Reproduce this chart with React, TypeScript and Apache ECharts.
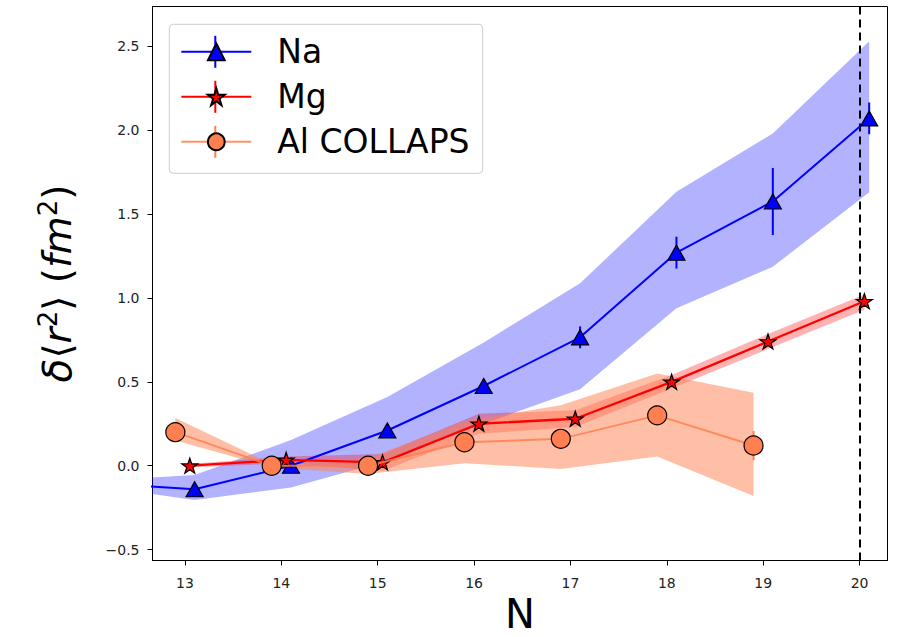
import React, { useEffect, useRef } from 'react';
import * as echarts from 'echarts';

// axis ranges / ticks
const X_MIN = 12.663;
const X_MAX = 20.29;
const Y_MIN = -0.565;
const Y_MAX = 2.737;
const X_TICKS = [13, 14, 15, 16, 17, 18, 19, 20];
const Y_TICKS = [-0.5, 0, 0.5, 1, 1.5, 2, 2.5];
const VLINE_N = 20;

// Na
const NA_LEAD = [12.1, -0.105];
const NA_LEAD_BAND = [-0.122, -0.088];
const NA_N = [13.1, 14.1, 15.1, 16.1, 17.1, 18.1, 19.1, 20.1];
const NA_Y = [-0.14, 0.0, 0.21, 0.475, 0.765, 1.27, 1.575, 2.07];
const NA_ERR = [0.02, 0.02, 0.03, 0.04, 0.065, 0.095, 0.2, 0.095];
const NA_LO = [-0.205, -0.13, 0.03, 0.25, 0.455, 0.938, 1.186, 1.63];
const NA_HI = [-0.055, 0.153, 0.41, 0.735, 1.087, 1.633, 1.98, 2.53];

// Mg
const MG_N = [13.05, 14.05, 15.05, 16.05, 17.05, 18.05, 19.05, 20.05];
const MG_Y = [0.0, 0.035, 0.02, 0.25, 0.28, 0.5, 0.74, 0.98];
const MG_ERR = [0.01, 0.01, 0.01, 0.02, 0.02, 0.02, 0.02, 0.02];
const MG_LO = [-0.01, 0.015, -0.03, 0.19, 0.23, 0.46, 0.695, 0.93];
const MG_HI = [0.01, 0.055, 0.07, 0.31, 0.33, 0.54, 0.785, 1.02];

// Al COLLAPS
const AL_N = [12.9, 13.9, 14.9, 15.9, 16.9, 17.9, 18.9];
const AL_Y = [0.2, 0.0, 0.0, 0.14, 0.16, 0.3, 0.12];
const AL_ERR = [0.03, 0.02, 0.02, 0.03, 0.03, 0.04, 0.087];
const AL_LO = [0.15, -0.01, -0.05, 0.015, -0.02, 0.055, -0.18];
const AL_HI = [0.285, 0.01, 0.046, 0.265, 0.36, 0.55, 0.435];

const BLUE = '#0000ff';
const RED = '#ff0000';
const CORAL = '#ff7f50';
const STAR =
  'path://M100 0 L122.45 69.1 L195.11 69.1 L136.33 111.8 L158.78 180.9 L100 138.2 L41.22 180.9 L63.67 111.8 L4.89 69.1 L77.55 69.1 Z';

function bandSeries(name: string, xs: number[], lo: number[], hi: number[], color: string, opacity: number) {
  return {
    type: 'custom',
    name,
    z: 1,
    silent: true,
    clip: true,
    data: xs.map((x, i) => [x, lo[i], hi[i]]),
    encode: { x: 0, y: [1, 2] },
    renderItem: (params: any, api: any) => {
      if (params.dataIndex !== 0) return null;
      const pts: number[][] = [];
      for (let i = 0; i < xs.length; i++) pts.push(api.coord([xs[i], hi[i]]));
      for (let i = xs.length - 1; i >= 0; i--) pts.push(api.coord([xs[i], lo[i]]));
      return {
        type: 'polygon',
        shape: { points: pts },
        style: { fill: color, opacity, stroke: 'none' },
      };
    },
  };
}

function errSeries(name: string, xs: number[], ys: number[], es: number[], color: string, z: number) {
  return {
    type: 'custom',
    name,
    z,
    silent: true,
    clip: true,
    data: xs.map((x, i) => [x, ys[i] - es[i], ys[i] + es[i]]),
    encode: { x: 0, y: [1, 2] },
    renderItem: (params: any, api: any) => {
      const a = api.coord([api.value(0), api.value(1)]);
      const b = api.coord([api.value(0), api.value(2)]);
      return {
        type: 'line',
        shape: { x1: a[0], y1: a[1], x2: b[0], y2: b[1] },
        style: { stroke: color, lineWidth: 2 },
      };
    },
  };
}

export default function App() {
  const ref = useRef<HTMLDivElement>(null);
  useEffect(() => {
    if (!ref.current) return;
    const chart = echarts.init(ref.current, undefined, { renderer: 'svg' });
    const fmtY = (v: number) => v.toFixed(1).replace('-', '\u2212');
    const legendCx = 169.3 + 11 + 35;
    const legendCy = [51.8, 96.8, 141.8];
    const legendColors = [BLUE, RED, CORAL];
    const option: any = {
      animation: false,
      textStyle: { fontFamily: 'DejaVu Sans' },
      grid: {
        left: 152.5,
        right: 9.5,
        top: 6.5,
        bottom: 76.5,
        show: true,
        borderColor: '#000',
        borderWidth: 1,
        backgroundColor: 'transparent',
        containLabel: false,
        outerBoundsMode: 'none',
      },
      xAxis: {
        type: 'value',
        min: X_MIN,
        max: X_MAX,
        splitLine: { show: false },
        axisLine: { show: true, onZero: false, lineStyle: { color: '#000', width: 1 } },
        axisTick: { show: true, length: 5, customValues: X_TICKS, lineStyle: { color: '#000', width: 1 } },
        axisLabel: {
          customValues: X_TICKS,
          fontSize: 14,
          color: '#222',
          margin: 15,
          formatter: (v: number) => String(v),
        },
        name: 'N',
        nameLocation: 'middle',
        nameGap: 33,
        nameTextStyle: { fontSize: 40, lineHeight: 40, color: '#000', fontFamily: 'DejaVu Sans' },
      },
      yAxis: {
        type: 'value',
        min: Y_MIN,
        max: Y_MAX,
        splitLine: { show: false },
        axisLine: { show: true, onZero: false, lineStyle: { color: '#000', width: 1 } },
        axisTick: { show: true, length: 5, customValues: Y_TICKS, lineStyle: { color: '#000', width: 1 } },
        axisLabel: {
          customValues: Y_TICKS,
          fontSize: 14,
          color: '#222',
          margin: 13,
          formatter: fmtY,
        },
        name: '{i|\u03b4}{n|\u27e8}{i|r}{s|2}{n|\u27e9 (}{i|fm}{s|2}{n|)}',
        nameLocation: 'middle',
        nameRotate: 90,
        nameGap: 72,
        nameTextStyle: {
          rich: {
            i: { fontSize: 39, fontStyle: 'italic', fontFamily: 'DejaVu Sans', color: '#000', lineHeight: 46 },
            n: { fontSize: 39, fontFamily: 'DejaVu Sans', color: '#000', lineHeight: 46 },
            s: { fontSize: 26, fontFamily: 'DejaVu Sans', color: '#000', lineHeight: 26, verticalAlign: 'top' },
          },
        },
      },
      legend: {
        data: ['Na', 'Mg', 'Al COLLAPS'],
        orient: 'vertical',
        left: 169.3,
        top: 24.3,
        padding: [5, 14, 9, 11],
        itemWidth: 70,
        itemHeight: 21,
        itemGap: 0,
        selectedMode: false,
        backgroundColor: 'transparent',
        borderWidth: 0,
        z: 20,
        textStyle: {
          fontSize: 33,
          lineHeight: 45,
          color: '#000',
          fontFamily: 'DejaVu Sans',
          padding: [0, 0, 0, 21],
        },
      },
      graphic: [
        {
          type: 'rect',
          z: 10,
          shape: { x: 169.3, y: 24.3, width: 313.4, height: 149, r: 4 },
          style: { fill: 'rgba(255,255,255,0.8)', stroke: '#cccccc', lineWidth: 1 },
        },
        ...legendCy.map((cy, i) => ({
          type: 'line',
          z: 11,
          shape: { x1: legendCx, y1: cy - 16, x2: legendCx, y2: cy + 16 },
          style: { stroke: legendColors[i], lineWidth: 2 },
        })),
      ],
      series: [
        bandSeries('Na band', [NA_LEAD[0], ...NA_N], [NA_LEAD_BAND[0], ...NA_LO], [NA_LEAD_BAND[1], ...NA_HI], BLUE, 0.3),
        bandSeries('Mg band', MG_N, MG_LO, MG_HI, RED, 0.3),
        bandSeries('Al band', AL_N, AL_LO, AL_HI, CORAL, 0.5),
        errSeries('Na err', NA_N, NA_Y, NA_ERR, BLUE, 3),
        errSeries('Mg err', MG_N, MG_Y, MG_ERR, RED, 3),
        errSeries('Al err', AL_N, AL_Y, AL_ERR, CORAL, 3),
        {
          type: 'line',
          name: 'Na',
          z: 5,
          clip: true,
          showAllSymbol: true,
          symbol: 'triangle',
          symbolSize: [17, 15],
          data: [{ value: NA_LEAD, symbol: 'none' }, ...NA_N.map((x, i) => [x, NA_Y[i]])],
          itemStyle: { color: BLUE, borderColor: '#000', borderWidth: 1.2 },
          lineStyle: { color: BLUE, width: 2 },
          markLine: {
            silent: true,
            symbol: ['none', 'none'],
            label: { show: false },
            lineStyle: { color: '#000', type: [8, 5], width: 2 },
            data: [{ xAxis: VLINE_N }],
          },
        },
        {
          type: 'line',
          name: 'Mg',
          z: 6,
          clip: true,
          showAllSymbol: true,
          symbol: STAR,
          symbolSize: [16, 15],
          data: MG_N.map((x, i) => [x, MG_Y[i]]),
          itemStyle: { color: RED, borderColor: '#000', borderWidth: 1.2 },
          lineStyle: { color: RED, width: 2.3 },
        },
        {
          type: 'line',
          name: 'Al COLLAPS',
          z: 7,
          clip: true,
          showAllSymbol: true,
          symbol: 'circle',
          symbolSize: 19,
          data: AL_N.map((x, i) => [x, AL_Y[i]]),
          itemStyle: { color: CORAL, borderColor: '#000', borderWidth: 1.2 },
          lineStyle: { color: CORAL, width: 2, opacity: 0.85 },
        },
      ],
    };
    chart.setOption(option);
    return () => chart.dispose();
  }, []);
  return <div ref={ref} style={{ position: 'absolute', left: 0, top: 0, width: 897, height: 637 }} />;
}
